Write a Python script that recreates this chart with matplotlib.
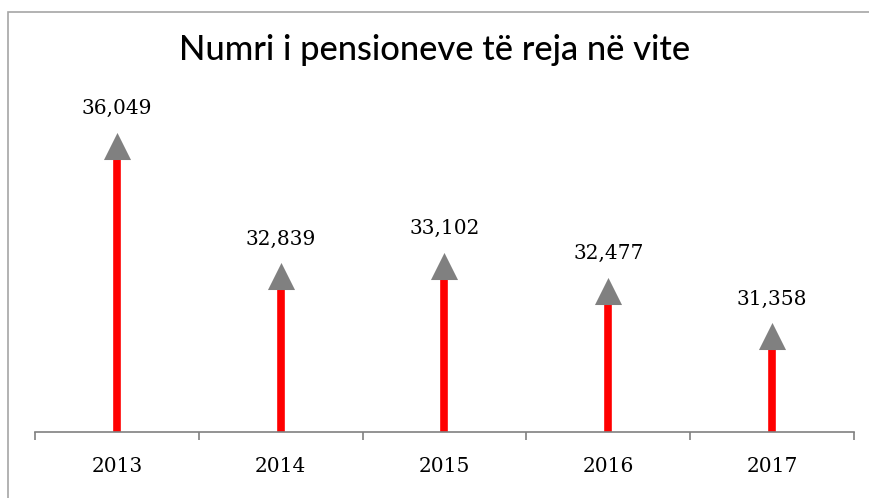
import matplotlib
matplotlib.use("Agg")
import matplotlib.pyplot as plt
from matplotlib.patches import Rectangle

years = ["2013", "2014", "2015", "2016", "2017"]
values = [36049, 32839, 33102, 32477, 31358]
labels = ["36,049", "32,839", "33,102", "32,477", "31,358"]
title = "Numri i pensioneve të reja në vite"

W, H = 869, 498
fig = plt.figure(figsize=(W / 100, H / 100), dpi=100)
fig.patch.set_facecolor("white")

# chart border (partially clipped in the reference)
fig.add_artist(Rectangle((8 / W, -0.05), 1.2, (H - 12) / H + 0.05,
                         transform=fig.transFigure, fill=False,
                         edgecolor="#a6a6a6", linewidth=1.2))

ax = fig.add_axes([35 / W, 1 - 432 / H, (854 - 35) / W, (432 - 67) / H])
ax.set_xlim(-0.5, len(years) - 0.5)
ax.set_ylim(29000, 38000)

x = list(range(len(years)))
ax.vlines(x, 29000, values, colors="#ff0000", linewidth=5.5, zorder=2)
ax.scatter(x, values, marker="^", s=380, color="#808080", zorder=3,
           linewidths=0)

for xi, v, lab in zip(x, values, labels):
    ax.annotate(lab, (xi, v), xytext=(0, 20), textcoords="offset points",
                ha="center", va="bottom", fontsize=14.5,
                family="DejaVu Serif", color="#000000")

for s in ["left", "right", "top"]:
    ax.spines[s].set_visible(False)
ax.spines["bottom"].set_color("#808080")
ax.spines["bottom"].set_linewidth(1.2)
ax.set_yticks([])
ax.set_xticks([i - 0.5 for i in range(len(years) + 1)], minor=False)
ax.set_xticklabels([])
ax.tick_params(axis="x", which="major", length=6, color="#808080", width=1.2)
ax.set_xticks(x, minor=True)
ax.set_xticklabels(years, minor=True, fontsize=14.5,
                   family="DejaVu Serif", color="#000000")
ax.tick_params(axis="x", which="minor", length=0, pad=18)

fig.text(0.5, 1 - 50 / H, title, ha="center", va="center", fontsize=24.8,
         family="Lato", fontweight="medium", color="#000000")

fig.savefig("out.png", dpi=100)
